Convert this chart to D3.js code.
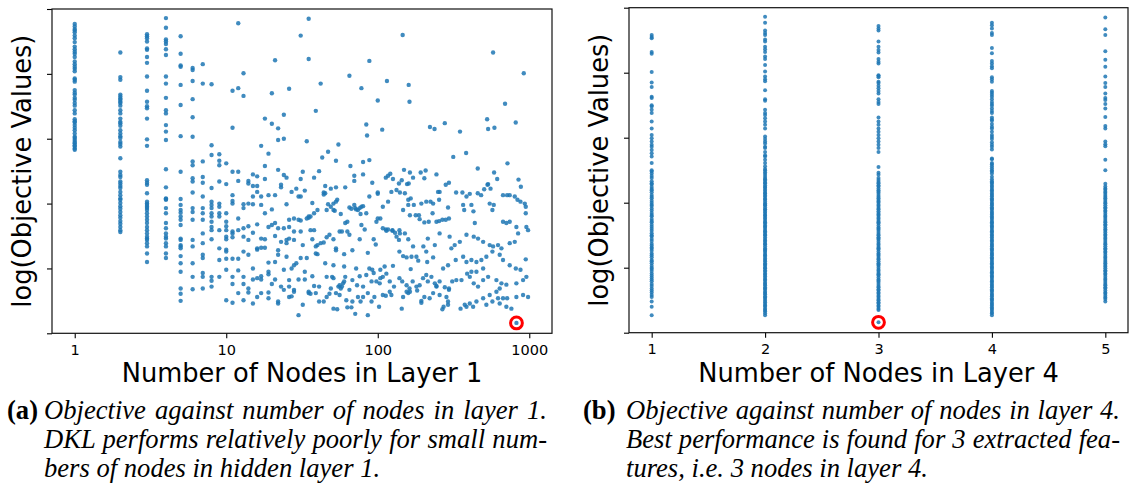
<!DOCTYPE html>
<html>
<head>
<meta charset="utf-8">
<script src="https://cdn.jsdelivr.net/npm/d3@7"></script>
<style>
  body { margin: 0; background: #fff; }
  svg { display: block; }
</style>
</head>
<body>
<svg id="fig" width="1129" height="491"></svg>
<script>
// ---- data: [nodes in layer 1, log objective (arbitrary units)] ----
const layer1Column1 = [477,473,469,467,464,459,455,449,442,438,434,431,426,419,415,411,408,404,393,391,388,375,371,368,363,360,355,351,344,339,330,327,325,321,317,313,308,303,301,298,295,293,290,288,285,283];
const layer1Column2 = [433,395,391,368,365,362,360,357,355,351,344,339,331,326,324,320,313,308,304,301,295,292,288,270,249,244,241,234,231,227,224,218,213,208,206,201,196,192,187,182,178,173,169,164,159,156];
const layer1Column3 = [461,458,455,450,439,437,426,417,396,374,357,350,347,331,299,289,236,232,229,216,203,200,198,195,193,190,185,180,175,170,164,159,154,149,146,144,139,134,123,110];
const layer1Column4 = [486,471,453,450,446,438,429,396,385,363,344,339,321,311,298,253,225,207,208,206,193,185,170,162,154,149,146,139,134,123,116];
const layer1Column5 = [458,431,413,411,383,352,304,249,207,198,190,186,180,175,167,146,144,136,134,131,119,108,95,69,61,50];
const layer1Column6 = [409,406,389,361,333,303,265,259,239,234,217,193,187,175,144,134,108,87,68];
const layer1Column7 = [415,385,265,241,232,211,193,185,175,154,139,121,116,93,87,69];
const layer1Column8 = [384,290,275,224,203,198,193,185,180,172,164,159,145,87,81,72];
const layer1Column9 = [276,266,259,234,200,195,185,180,159,131,113,87];

const layer1Scatter = [
  [10,262],[10,230],[10,185],[10,172],[10,165],[10,159],[10,149],[10,145],[10,129],[10,126],[11,213],[11,204],[11,200],[11,157],[11,154],[11,148],
  [11,374],[12,378],[13,401],[12,478],[11,317],[13,366],[17,289],[18,331],[20,323],[20,370],[21,421],[22,316],[22,298],[19,277],[21,213],
  [24,337],[24,300],[26,377],[31,459],[35,485],[35,423],[39,343],[42,385],[34,296],[55,291],[65,397],[78,378],[88,420],[100,359],[115,389],
  [84,322],[85,305],[107,314],[146,460],[160,383],[162,357],[221,318],[237,315],[277,324],[41,250],
  [349,311],[315,272],[383,278],[577,433],[692,354],[527,330],[535,315],[589,317],[814,325],[920,401],[718,262],[457,254],
  [329,217],[362,217],[405,215],[457,216],[504,222],[530,229],[555,223],[586,248],[614,238],[849,237],[880,226],[535,230],
  [18,258],[22,252],[32,249],[43,271],[47,280],[53,266],[66,258],[80,264],[88,267],[117,243],[121,246],[149,252],[163,248],[192,248],[207,251],[244,245],[70,243],[80,245],
  [11,249],[12,249],[12,235],[14,235],[14,231],[15,245],[16,242],[18,238],[24,244],[25,240],[23,229],[23,225],[27,218],[29,223],[31,238],[38,240],[45,227],[45,216],
  [49,223],[53,225],[61,225],[70,235],[92,232],[113,240],[126,238],[138,231],[144,236],[156,230],[160,231],[171,240],[203,239],[281,229],[295,232],[256,218],
  [15,227],[16,227],[16,218],[15,211],[17,211],[19,213],[25,199],[30,211],[31,211],[33,220],[37,201],[44,217],[44,214],[47,199],[49,195],[51,200],[53,203],[54,206],
  [65,194],[70,198],[74,190],[76,193],[78,195],[80,196],[88,211],[100,217],[100,215],[108,195],[117,203],[123,218],[133,221],[140,217],[151,216],[159,206],[165,208],
  [173,198],[194,200],[209,203],[223,203],[232,200],[250,218],[254,206],[291,194],
  [13,199],[13,193],[14,200],[15,199],[17,198],[18,185],[20,191],[21,170],[22,162],[24,162],[26,175],[26,164],[28,177],[30,175],[31,174],[34,177],[35,180],[35,178],
  [36,180],[38,185],[40,190],[46,190],[51,190],[52,189],[57,184],[61,170],[63,172],[67,192],[71,193],[72,191],[77,184],[78,167],[84,185],[98,172],[100,177],[104,177],
  [113,160],[117,160],[125,159],[139,159],[147,190],[159,198],[163,182],[178,182],[187,182],[189,176],[203,171],[217,172],[230,185],[244,172],[254,173],[267,175],[281,175],[295,177],
  [12,177],[12,159],[13,162],[13,149],[14,165],[14,144],[15,155],[16,168],[16,129],[17,146],[18,145],[19,164],[20,167],[21,150],[23,141],[25,144],[25,139],[26,146],
  [28,157],[28,144],[31,157],[32,136],[36,159],[38,159],[37,145],[39,134],[40,136],[42,139],[44,140],[46,148],[48,152],[51,145],[53,131],[56,157],[58,157],[63,157],
  [65,152],[68,128],[76,145],[82,160],[86,124],[94,145],[97,137],[108,162],[114,158],[125,158],[130,155],[133,149],[138,144],[140,154],[151,154],[159,145],[171,134],
  [200,134],[214,146],[238,136],[256,154],[298,149],
  [10,115],[11,115],[12,115],[13,126],[14,121],[15,100],[16,131],[17,132],[18,132],[19,109],[21,110],[22,128],[22,121],[24,98],[25,118],[27,100],[28,105],[29,108],
  [31,116],[34,116],[39,123],[40,122],[45,108],[51,105],[53,128],[60,122],[60,103],[72,100],[88,100],[92,98],[104,98],[111,103],[126,104],[139,126],[147,119],
  [155,117],[165,99],[167,118],[180,118],[185,112],[209,126],[212,110],[232,117],[270,100],[291,105],
  [10,98],[11,87],[11,76],[12,97],[13,87],[13,76],[14,69],[15,83],[16,85],[17,88],[17,83],[19,95],[19,91],[20,76],[21,83],[23,72],[26,82],[26,72],[28,67],[30,83],
  [33,83],[33,95],[35,64],[37,88],[38,73],[41,72],[46,87],[49,69],[50,87],[51,85],[55,72],[56,74],[57,69],[59,77],[60,80],[61,87],[65,67],[68,82],[73,74],[76,88],
  [80,72],[84,90],[86,62],[91,80],[94,93],[98,80],[103,77],[104,85],[108,87],[114,92],[120,80],[128,72],[139,85],[145,80],[155,74],[162,69],[170,80],[180,72],
  [189,74],[199,85],[209,90],[214,80],[226,87],[238,77],[244,73],[256,80],[277,71],[295,69],
  [10,51],[11,47],[12,62],[13,51],[14,63],[15,46],[16,56],[17,62],[19,63],[19,54],[22,46],[22,49],[24,67],[26,56],[27,57],[28,64],[30,28],[32,44],[35,62],[36,61],
  [39,62],[41,49],[44,49],[46,56],[48,61],[51,38],[53,62],[54,37],[56,59],[58,72],[62,51],[63,40],[67,40],[68,49],[71,30],[74,56],[77,49],[80,56],[86,28],[91,49],
  [95,56],[102,41],[108,59],[113,58],[120,64],[123,59],[144,38],[147,56],[155,64],[159,62],[163,64],[182,66],[194,50],[194,47],[203,56],[220,54],[232,62],[244,72],
  [256,59],[267,37],[272,41],[284,56],[291,49],[291,44],[295,67],
  [481,213],[366,198],[372,190],[385,211],[415,198],[428,188],[437,170],[548,200],[571,190],[583,198],[671,213],[714,213],[743,213],[802,211],[836,206],[875,203],
  [934,200],[948,195],[948,185],[706,170],[671,172],[743,172],[822,164],[957,164],[982,159],[844,154],[802,141],[743,139],[655,131],[622,136],[577,134],[548,136],
  [496,141],[459,146],[430,149],[385,152],[348,141],[322,136],[306,131],[327,113],[366,118],[385,110],[415,113],[448,110],[483,113],[521,118],[571,126],[638,121],
  [671,113],[743,105],[815,100],[875,98],[948,114],[496,100],[448,95],[415,95],[389,92],[405,87],[357,82],[330,82],[310,80],[430,77],[459,72],[496,82],[535,87],
  [607,82],[655,77],[706,75],[822,77],[910,82],[957,87],[638,69],[607,64],[548,59],[496,54],[448,49],[405,46],[375,44],[352,38],[385,41],[426,41],[521,44],[571,49],
  [622,54],[671,54],[714,54],[638,46],[706,41],[762,38],[822,56],[910,59],[982,56],[823,16]
];

// ---- data: log objective per number of nodes in layer 4 ----
const layer4Categories = [1, 2, 3, 4, 5];
const layer4Column1 = [458,455,453,432,429,401,385,378,363,361,350,348,343,338,325,314,304,299,294,289,286,281,276,271,261,250,248,245,241,238,
  233,230,228,224,221,219,216,212,209,207,203,200,197,195,191,188,184,181,179,175,172,170,166,163,160,157,153,150,148,144,141,137,134,131,129,126,122,119,116,112,
  110,107,103,100,98,95,91,88,85,82,79,75,72,68,65,62,58,55,48,40,27];
const layer4Column2 = [486,477,465,461,458,451,448,440,436,432,425,421,412,402,394,390,387,373,359,357,343,338,335,330,325,320,314,302,298,294,291,286,284,278,273,
  271,266,261,256,252,250,247,244,241,238,236,234,231,230,227,224,223,220,218,215,214,211,209,206,205,202,199,197,196,193,190,189,186,184,181,180,177,175,172,170,
  168,165,163,161,158,156,154,151,150,147,144,142,140,137,136,133,130,128,126,124,121,119,117,114,112,110,107,105,103,100,99,96,94,91,89,87,84,82,80,77,75,73,70,
  68,66,63,61,59,56,54,52,49,47,44,42,40,37,35,33,30,27];
const layer4Column3 = [472,468,465,448,440,435,431,421,417,414,396,395,393,386,384,380,376,372,368,359,355,352,331,325,320,314,309,304,299,294,289,284,278,255,246,
  243,238,235,232,230,227,225,222,219,217,215,212,209,207,204,202,200,197,195,192,190,187,184,182,180,177,175,172,170,168,165,162,160,158,155,152,150,147,145,143,
  140,137,135,132,130,128,125,122,120,118,115,113,110,107,105,103,100,97,95,92,90,88,85,82,80,78,75,72,70,67,65,62,60,57,55,52,50,47,45,42,40,37,35,16];
const layer4Column4 = [477,473,468,461,458,438,430,418,414,410,407,393,390,386,372,369,366,363,359,355,352,349,345,341,338,331,328,326,321,317,314,309,304,301,298,
  293,289,286,282,268,267,261,259,256,253,250,248,245,240,236,233,231,229,226,224,221,219,217,214,212,210,207,205,203,200,198,196,193,191,189,186,184,182,179,177,
  175,172,170,168,165,163,161,158,156,154,151,149,147,144,142,140,137,135,133,130,128,126,123,121,119,116,114,112,109,107,105,102,100,98,95,93,91,88,86,84,81,79,
  77,74,72,70,67,65,63,60,58,56,53,51,49,46,44,42,39,37,35,32,30,27];
const layer4Column5 = [485,467,458,433,420,409,394,384,378,368,361,358,352,345,332,318,314,294,290,287,266,250,229,225,222,220,217,215,212,209,207,204,201,199,196,
  193,191,188,186,183,180,178,175,172,170,167,165,162,159,157,154,151,149,146,144,141,138,136,133,130,128,125,123,120,117,115,112,109,107,104,102,99,96,94,91,89,
  86,83,81,78,75,73,70,68,65,62,60,57,54,52,48];

// best trial (highlighted)
const bestTrial = { layer1: 823, layer4: 3, objective: 16 };

// axis tick values
const layer1Ticks = [1, 10, 100, 1000];
const objectiveTicks = [0, 100, 200, 300, 400, 500];

// captions
const captionA = ["Objective against number of nodes in layer 1.", "DKL performs relatively poorly for small num-", "bers of nodes in hidden layer 1."];
const captionB = ["Objective against number of nodes in layer 4.", "Best performance is found for 3 extracted fea-", "tures, i.e. 3 nodes in layer 4."];

// ---- assemble point lists ----
const layer1Columns = [layer1Column1, layer1Column2, layer1Column3, layer1Column4, layer1Column5,
                       layer1Column6, layer1Column7, layer1Column8, layer1Column9];
const layer1Points = [];
layer1Columns.forEach((vals, i) => vals.forEach(v => layer1Points.push([i + 1, v])));
layer1Scatter.forEach(p => layer1Points.push(p));

const layer4Columns = [layer4Column1, layer4Column2, layer4Column3, layer4Column4, layer4Column5];
const layer4Points = [];
layer4Columns.forEach((vals, i) => vals.forEach(v => layer4Points.push([layer4Categories[i], v])));

// ---- drawing ----
const svg = d3.select("#fig");
svg.append("rect").attr("width", 1129).attr("height", 491).attr("fill", "#fff");

const BLUE = "#1f77b4";
const FONT = "'DejaVu Sans', sans-serif";

function panel(opts) {
  const g = svg.append("g");
  const { x, y, points, xTicks, xFormat, xLabel, r, best } = opts;
  const [x0, x1] = x.range();
  const [y0, y1] = y.range();

  g.append("g").selectAll("circle").data(points).join("circle")
    .attr("cx", d => x(d[0]))
    .attr("cy", d => y(d[1]))
    .attr("r", r)
    .attr("fill", BLUE)
    .attr("fill-opacity", 0.85);

  g.append("circle")
    .attr("cx", x(best[0])).attr("cy", y(best[1]))
    .attr("r", 5.9)
    .attr("fill", "none")
    .attr("stroke", "#ff0000")
    .attr("stroke-width", 3);

  const xa = g.append("g").attr("transform", `translate(0,${y0})`)
    .call(d3.axisBottom(x).tickValues(xTicks).tickFormat(xFormat).tickSize(5).tickPadding(6.5));
  const ya = g.append("g").attr("transform", `translate(${x0},0)`)
    .call(d3.axisLeft(y).tickValues(objectiveTicks).tickFormat("").tickSize(5));
  [xa, ya].forEach(a => {
    a.attr("font-family", null).attr("font-size", null);
    a.select(".domain").remove();
    a.selectAll("line").attr("stroke", "#000").attr("stroke-width", 1.1);
    a.selectAll("text").style("font-family", FONT).style("font-size", "14.5px").attr("fill", "#000");
  });

  g.append("rect")
    .attr("x", x0).attr("y", y1)
    .attr("width", x1 - x0).attr("height", y0 - y1)
    .attr("fill", "none").attr("stroke", "#111").attr("stroke-width", 1.2);

  g.append("text")
    .attr("x", (x0 + x1) / 2).attr("y", 382)
    .attr("text-anchor", "middle")
    .style("font-family", FONT).style("font-size", "25.7px")
    .text(xLabel);

  g.append("text")
    .attr("transform", `translate(${x0 - 21},${(y0 + y1) / 2}) rotate(-90)`)
    .attr("text-anchor", "middle")
    .style("font-family", FONT).style("font-size", "25.7px")
    .text("log(Objective Values)");
}

const xLeft = d3.scaleLog().domain([Math.pow(10, -0.15), Math.pow(10, 3.15)]).range([52, 552]);
const yLeft = d3.scaleLinear().domain([0, 500]).range([333.3, 9]);
panel({ x: xLeft, y: yLeft, points: layer1Points, xTicks: layer1Ticks, xFormat: d3.format("d"),
        xLabel: "Number of Nodes in Layer 1", r: 2.2, best: [bestTrial.layer1, bestTrial.objective] });

const xRight = d3.scaleLinear().domain([0.8, 5.2]).range([629, 1128]);
const yRight = d3.scaleLinear().domain([0, 500]).range([332.7, 7.7]);
panel({ x: xRight, y: yRight, points: layer4Points, xTicks: layer4Categories, xFormat: d3.format("d"),
        xLabel: "Number of Nodes in Layer 4", r: 2.0, best: [bestTrial.layer4, bestTrial.objective] });

// ---- captions (justified like a typeset figure caption) ----
const SERIF = "'Liberation Serif', 'Times New Roman', serif";
const CAP_SIZE = "26.6px";
function caption(tag, lines, tagX, textX, rightX) {
  const base = [419, 448, 477];
  svg.append("text")
    .attr("x", tagX).attr("y", base[0])
    .style("font-family", SERIF).style("font-size", CAP_SIZE).style("font-weight", "bold")
    .text(tag);
  lines.forEach((line, i) => {
    const t = svg.append("text")
      .attr("x", textX).attr("y", base[i])
      .style("font-family", SERIF).style("font-size", CAP_SIZE).style("font-style", "italic")
      .text(line);
    if (i < lines.length - 1) {
      const w = t.node().getComputedTextLength();
      const spaces = (line.match(/ /g) || []).length;
      if (spaces > 0) t.style("word-spacing", ((rightX - textX - w) / spaces) + "px");
    }
  });
}
caption("(a)", captionA, 7, 44, 547);
caption("(b)", captionB, 583, 626, 1120);
</script>
</body>
</html>
